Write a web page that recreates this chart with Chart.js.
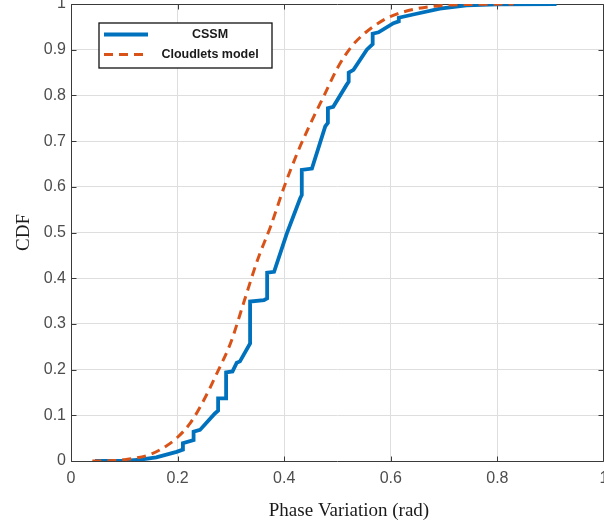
<!DOCTYPE html>
<html><head><meta charset="utf-8">
<script src="https://cdn.jsdelivr.net/npm/chart.js@4/dist/chart.umd.min.js"></script>
<style>
html,body{margin:0;padding:0;background:#fff;overflow:hidden;width:604px;height:526px}
#wrap{position:relative;width:698px;height:526px}
canvas{display:block}
</style>
</head><body><div id="wrap"><canvas id="c" width="698" height="526" style="width:698px;height:526px"></canvas></div>
<script>
// ---- data ----
const xTicks = [0, 0.2, 0.4, 0.6, 0.8, 1];
const yTicks = [0, 0.1, 0.2, 0.3, 0.4, 0.5, 0.6, 0.7, 0.8, 0.9, 1];
const seriesNames = ['CSSM', 'Cloudlets model'];
const xTitle = 'Phase Variation (rad)';
const yTitle = 'CDF';

// CSSM empirical CDF (steps)
const cssmX = [0.045, 0.1, 0.13, 0.16, 0.198, 0.21, 0.21, 0.23, 0.23, 0.242, 0.27, 0.276, 0.276, 0.291, 0.291, 0.303, 0.311, 0.317, 0.336, 0.336, 0.362, 0.368, 0.368, 0.381, 0.405, 0.43, 0.433, 0.433, 0.452, 0.477, 0.482, 0.482, 0.492, 0.517, 0.521, 0.521, 0.53, 0.555, 0.566, 0.566, 0.577, 0.605, 0.615, 0.615, 0.642, 0.692, 0.742, 0.8, 0.911];
const cssmY = [0, 0, 0.003, 0.008, 0.02, 0.025, 0.039, 0.046, 0.064, 0.068, 0.104, 0.11, 0.137, 0.137, 0.194, 0.196, 0.215, 0.218, 0.257, 0.349, 0.352, 0.356, 0.412, 0.414, 0.498, 0.575, 0.582, 0.637, 0.64, 0.732, 0.74, 0.772, 0.775, 0.823, 0.83, 0.85, 0.856, 0.9, 0.912, 0.935, 0.938, 0.958, 0.962, 0.97, 0.977, 0.99, 0.997, 0.999, 1];

// Cloudlets model CDF (smooth)
const cloudX = [0.04, 0.08, 0.1, 0.12, 0.15, 0.175, 0.2, 0.225, 0.25, 0.275, 0.3, 0.325, 0.35, 0.375, 0.4, 0.425, 0.45, 0.475, 0.5, 0.525, 0.55, 0.575, 0.6, 0.65, 0.7, 0.75, 0.83];
const cloudY = [0, 0.001, 0.003, 0.006, 0.015, 0.03, 0.052, 0.085, 0.135, 0.195, 0.26, 0.35, 0.44, 0.515, 0.6, 0.675, 0.74, 0.8, 0.86, 0.905, 0.935, 0.957, 0.973, 0.99, 0.997, 0.999, 1];

const toPts = (xs, ys) => xs.map((x, i) => ({x: x, y: ys[i]}));

const framePlugin = {
  id: 'frame',
  beforeDatasetsDraw(chart) {
    const {ctx, chartArea: a, scales} = chart;
    ctx.save();
    ctx.strokeStyle = '#3a3a3a';
    ctx.lineWidth = 1;
    ctx.beginPath();
    const L = Math.round(a.left) + 0.5, R = Math.round(a.right) - 0.5;
    const T = Math.round(a.top) + 0.5, B = Math.round(a.bottom) + 0.5;
    ctx.rect(L, T, R - L, B - T);
    const tl = 5;
    scales.y.ticks.forEach(t => {
      const y = Math.round(scales.y.getPixelForValue(t.value)) + 0.5;
      ctx.moveTo(L, y); ctx.lineTo(L + tl, y);
      ctx.moveTo(R, y); ctx.lineTo(R - tl, y);
    });
    scales.x.ticks.forEach(t => {
      const x = Math.round(scales.x.getPixelForValue(t.value)) + 0.5;
      ctx.moveTo(x, B); ctx.lineTo(x, B - tl);
      ctx.moveTo(x, T); ctx.lineTo(x, T + tl);
    });
    ctx.stroke();
    ctx.restore();
  },
  afterDraw(chart) {
    const {ctx} = chart;
    ctx.save();
    const bx = 99, by = 23, bw = 173, bh = 45;
    ctx.fillStyle = '#fff';
    ctx.fillRect(bx, by, bw, bh);
    ctx.strokeStyle = '#111';
    ctx.lineWidth = 1.3;
    ctx.strokeRect(bx, by, bw, bh);
    chart.data.datasets.forEach((ds, i) => {
      const y = 34.5 + i * 20;
      ctx.strokeStyle = ds.borderColor;
      ctx.lineWidth = ds.borderWidth;
      ctx.setLineDash(ds.borderDash || []);
      ctx.beginPath();
      ctx.moveTo(104, y); ctx.lineTo(148, y);
      ctx.stroke();
      ctx.setLineDash([]);
      ctx.fillStyle = '#1a1a1a';
      ctx.font = 'bold 12.5px "Liberation Sans", Arial, sans-serif';
      ctx.textAlign = 'center';
      ctx.textBaseline = 'middle';
      ctx.fillText(ds.label, 210, y);
    });
    ctx.restore();
  }
};

const tickFont = {family: '"Liberation Sans", Arial, sans-serif', size: 16};
const titleFont = {family: '"Liberation Serif", "Times New Roman", serif', size: 19, weight: 'normal'};
const noPad = s => { s.paddingTop = 0; s.paddingBottom = 0; };

new Chart(document.getElementById('c'), {
  type: 'line',
  data: {
    datasets: [
      {
        label: seriesNames[0],
        data: toPts(cssmX, cssmY),
        borderColor: '#0072BD',
        borderWidth: 3.8,
        pointRadius: 0,
        tension: 0,
        fill: false,
        order: 2
      },
      {
        label: seriesNames[1],
        data: toPts(cloudX, cloudY),
        borderColor: '#D95319',
        borderWidth: 3,
        borderDash: [9, 6],
        pointRadius: 0,
        cubicInterpolationMode: 'monotone',
        fill: false,
        order: 1
      }
    ]
  },
  options: {
    responsive: false,
    animation: false,
    devicePixelRatio: 1,
    layout: {padding: {top: 4, right: 0, left: 0, bottom: 0}},
    plugins: {
      legend: {display: false},
      tooltip: {enabled: false},
      title: {
        display: true,
        position: 'bottom',
        text: xTitle,
        color: '#1a1a1a',
        font: titleFont,
        padding: {top: 0, bottom: 4}
      }
    },
    scales: {
      x: {
        type: 'linear',
        min: 0, max: 1,
        afterBuildTicks: s => { s.ticks = xTicks.map(v => ({value: v})); },
        afterFit: s => { s.height = 38.2; },
        ticks: {font: tickFont, color: '#4d4d4d', padding: 8, maxRotation: 0, autoSkip: false,
                callback: v => String(v)},
        grid: {color: '#dedede', lineWidth: 1, drawTicks: false},
        border: {display: false}
      },
      y: {
        type: 'linear',
        min: 0, max: 1,
        afterBuildTicks: s => { s.ticks = yTicks.map(v => ({value: v})); },
        afterFit: s => { s.width = 71; noPad(s); },
        ticks: {font: tickFont, color: '#4d4d4d', padding: 5, autoSkip: false,
                callback: v => String(v)},
        grid: {color: '#dedede', lineWidth: 1, drawTicks: false},
        border: {display: false},
        title: {display: true, text: yTitle, color: '#1a1a1a', font: titleFont, padding: {top: 13, bottom: 0}}
      },
      yPad: {
        type: 'linear',
        position: 'right',
        display: true,
        afterFit: s => { s.width = 94; noPad(s); },
        ticks: {display: false},
        grid: {display: false, drawTicks: false},
        border: {display: false}
      }
    }
  },
  plugins: [framePlugin]
});
</script>
</body></html>
